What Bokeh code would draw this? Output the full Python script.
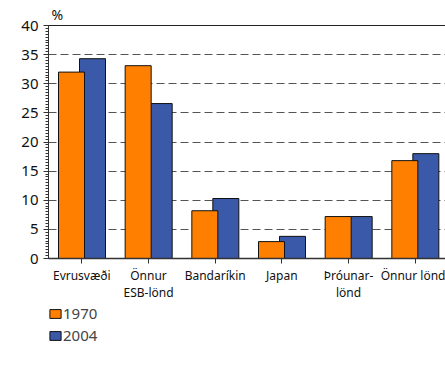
from bokeh.plotting import figure
from bokeh.layouts import column
from bokeh.models import (Range1d, FixedTicker, Legend, LegendItem, Title, ColumnDataSource, LinearAxis)
from bokeh.embed import file_html
from bokeh.resources import INLINE

categories_line1 = ["Evrusvæði", "Önnur", "Bandaríkin", "Japan", "Þróunar-", "Önnur lönd"]
categories_line2 = ["", "ESB-lönd", "", "", "lönd", ""]
v1970 = [32.0, 33.1, 8.2, 2.9, 7.2, 16.8]
v2004 = [34.3, 26.6, 10.3, 3.8, 7.2, 18.0]
series_names = ["1970", "2004"]
colors = ["#FF8000", "#3A59A8"]
y_ticks = [0, 5, 10, 15, 20, 25, 30, 35, 40]

centers = [i + 0.5 for i in range(len(categories_line1))]

p = figure(frame_width=400, frame_height=233, output_backend="svg", toolbar_location=None,
           x_range=Range1d(0, len(categories_line1)), y_range=Range1d(0, 40),
           min_border_left=44, min_border_right=1, min_border_top=6, min_border_bottom=0)

src_b = ColumnDataSource(dict(x=[c + 0.16 for c in centers], top=v2004))
src_o = ColumnDataSource(dict(x=[c - 0.155 for c in centers], top=v1970))
rb = p.vbar(x="x", top="top", width=0.39, bottom=0, source=src_b,
            fill_color=colors[1], line_color="#111111", line_width=1)
ro = p.vbar(x="x", top="top", width=0.39, bottom=0, source=src_o,
            fill_color=colors[0], line_color="#111111", line_width=1)

p.outline_line_color = "#222222"
p.outline_line_width = 1

p.xgrid.visible = False
p.ygrid.ticker = FixedTicker(ticks=y_ticks)
p.ygrid.grid_line_color = "#555555"
p.ygrid.grid_line_dash = "8 4"
p.ygrid.grid_line_width = 1

p.yaxis.ticker = FixedTicker(ticks=y_ticks, minor_ticks=[i * 0.5 for i in range(81)])
p.yaxis.major_tick_out = 5
p.yaxis.major_tick_in = 0
p.yaxis.minor_tick_out = 3
p.yaxis.minor_tick_in = 0
p.yaxis.axis_line_color = "#333333"
p.yaxis.major_tick_line_color = "#333333"
p.yaxis.minor_tick_line_color = "#333333"
p.yaxis.major_label_text_font = "Noto Sans"
p.yaxis.major_label_text_font_size = "15px"
p.yaxis.major_label_text_color = "#111111"
p.yaxis.major_label_standoff = 5

p.xaxis.ticker = FixedTicker(ticks=centers)
p.xaxis.major_label_overrides = {c: lab for c, lab in zip(centers, categories_line1)}
p.xaxis.major_tick_out = 5
p.xaxis.major_tick_in = 0
p.xaxis.minor_tick_line_color = None
p.xaxis.axis_line_color = "#333333"
p.xaxis.axis_line_width = 1.5
p.xaxis.major_tick_line_color = "#333333"
p.xaxis.major_label_text_font = "Noto Sans"
p.xaxis.major_label_text_font_size = "12px"
p.xaxis.major_label_text_color = "#111111"
p.xaxis.major_label_standoff = 3

ax2 = LinearAxis(ticker=FixedTicker(ticks=centers),
                 major_label_overrides={c: (lab if lab else " ") for c, lab in zip(centers, categories_line2)},
                 axis_line_color=None, major_tick_line_color=None, minor_tick_line_color=None,
                 major_tick_out=0, major_tick_in=0, major_label_standoff=-3,
                 major_label_text_font="Noto Sans", major_label_text_font_size="12px",
                 major_label_text_color="#111111")
p.add_layout(ax2, "below")

p.add_layout(Title(text="%", align="left", offset=3, text_font="Noto Sans",
                   text_font_size="14px", text_font_style="normal", text_color="#111111",
                   standoff=4), "above")

# Legend lives in a small companion figure placed under the chart
lg = figure(width=445, height=58, output_backend="svg", toolbar_location=None,
            x_range=Range1d(100, 101), y_range=Range1d(100, 101),
            x_axis_type=None, y_axis_type=None,
            min_border_left=48, min_border_right=1, min_border_top=0, min_border_bottom=0)
lg.grid.visible = False
lg.outline_line_color = None
lo = lg.vbar(x="x", top="top", width=0.39, bottom=0, source=src_o,
             fill_color=colors[0], line_color="#111111", line_width=1)
lb = lg.vbar(x="x", top="top", width=0.39, bottom=0, source=src_b,
             fill_color=colors[1], line_color="#111111", line_width=1)

legend = Legend(items=[LegendItem(label=series_names[0], renderers=[lo]),
                       LegendItem(label=series_names[1], renderers=[lb])],
                location="top_left", orientation="vertical",
                background_fill_alpha=0, border_line_color=None,
                glyph_width=14, glyph_height=11, label_text_font="Noto Sans",
                label_text_font_size="15px", label_standoff=1, spacing=2, padding=0,
                margin=0, label_height=18)
lg.add_layout(legend, "center")

layout = column(p, lg, spacing=0)
open("out.html", "w").write(file_html(layout, INLINE))
